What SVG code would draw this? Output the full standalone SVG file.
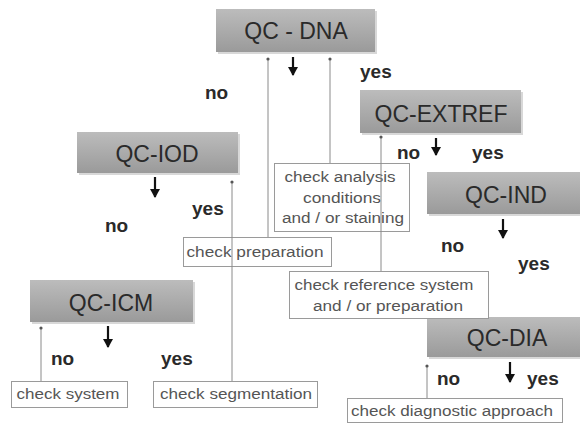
<svg xmlns="http://www.w3.org/2000/svg" width="580" height="425" viewBox="0 0 580 425">
<defs>
<linearGradient id="g" x1="0" y1="0" x2="0" y2="1">
<stop offset="0" stop-color="#bcbcbc"/>
<stop offset="1" stop-color="#9a9a9a"/>
</linearGradient>
<marker id="dot" markerWidth="4" markerHeight="4" refX="2" refY="2" markerUnits="userSpaceOnUse"><circle cx="2" cy="2" r="1.6" fill="#555"/></marker>
<marker id="ah" markerWidth="9" markerHeight="10" refX="8" refY="5" orient="auto" markerUnits="userSpaceOnUse" viewBox="0 0 9 10"><path d="M0,0 L9,5 L0,10 Z" fill="#111"/></marker>
</defs>
<style>
.box{fill:url(#g);}
.sh{fill:#d8d8d8;}
.bt{font-family:"Liberation Sans",Arial,sans-serif;font-size:23px;fill:#2a2a2a;text-anchor:middle;}
.lb{fill:#fff;stroke:#9a9a9a;stroke-width:1;}
.lt{font-family:"Liberation Sans",Arial,sans-serif;font-size:14px;fill:#555;text-anchor:middle;}
.yn{font-family:"Liberation Sans",Arial,sans-serif;font-size:19px;font-weight:bold;fill:#2a2a2a;}
.up{stroke:#8a8a8a;stroke-width:1;fill:none;marker-start:url(#dot);}
.dn{stroke:#111;stroke-width:2.2;fill:none;marker-end:url(#ah);}
</style>
<rect width="580" height="425" fill="#fff"/>

<g id="qc-dna"><rect class="sh" x="218" y="11" width="159" height="43"/><rect class="box" x="216" y="9" width="159" height="43"/><text class="bt" x="296" y="39">QC - DNA</text></g>
<g id="qc-extref"><rect class="sh" x="362" y="92" width="161" height="43"/><rect class="box" x="360" y="90" width="161" height="43"/><text class="bt" x="441" y="122">QC-EXTREF</text></g>
<g id="qc-iod"><rect class="sh" x="79" y="134" width="161" height="41"/><rect class="box" x="77" y="132" width="161" height="41"/><text class="bt" x="157" y="162">QC-IOD</text></g>
<g id="qc-ind"><rect class="sh" x="429" y="174" width="153" height="42"/><rect class="box" x="427" y="172" width="153" height="42"/><text class="bt" x="506" y="203">QC-IND</text></g>
<g id="qc-icm"><rect class="sh" x="32" y="282" width="163" height="42"/><rect class="box" x="30" y="280" width="163" height="42"/><text class="bt" x="111" y="311">QC-ICM</text></g>
<g id="qc-dia"><rect class="sh" x="429" y="319" width="153" height="40"/><rect class="box" x="427" y="317" width="153" height="40"/><text class="bt" x="507" y="346">QC-DIA</text></g>

<g id="check-analysis"><rect class="lb" x="274.5" y="163.5" width="135" height="68"/>
<text class="lt" x="340" y="182" textLength="111" lengthAdjust="spacingAndGlyphs">check analysis</text>
<text class="lt" x="342" y="203" textLength="78" lengthAdjust="spacingAndGlyphs">conditions</text>
<text class="lt" x="343" y="223" textLength="122" lengthAdjust="spacingAndGlyphs">and / or staining</text></g>
<g id="check-preparation"><rect class="lb" x="183.5" y="237.5" width="148" height="29"/>
<text class="lt" x="255" y="257" textLength="137" lengthAdjust="spacingAndGlyphs">check preparation</text></g>
<g id="check-reference"><rect class="lb" x="289.5" y="271.5" width="199" height="47"/>
<text class="lt" x="384" y="290" textLength="179" lengthAdjust="spacingAndGlyphs">check reference system</text>
<text class="lt" x="388" y="311" textLength="150" lengthAdjust="spacingAndGlyphs">and / or preparation</text></g>
<g id="check-system"><rect class="lb" x="11.5" y="381.5" width="116" height="26"/>
<text class="lt" x="68" y="399" textLength="103" lengthAdjust="spacingAndGlyphs">check system</text></g>
<g id="check-segmentation"><rect class="lb" x="153.5" y="381.5" width="164" height="26"/>
<text class="lt" x="236" y="399" textLength="152" lengthAdjust="spacingAndGlyphs">check segmentation</text></g>
<g id="check-diagnostic"><rect class="lb" x="347.5" y="398.5" width="215" height="24"/>
<text class="lt" x="452" y="416" textLength="202" lengthAdjust="spacingAndGlyphs">check diagnostic approach</text></g>

<g id="labels">
<text class="yn" x="205" y="99">no</text>
<text class="yn" x="360" y="78">yes</text>
<text class="yn" x="397" y="159">no</text>
<text class="yn" x="472" y="159">yes</text>
<text class="yn" x="192" y="215">yes</text>
<text class="yn" x="105" y="232">no</text>
<text class="yn" x="441" y="252">no</text>
<text class="yn" x="518" y="270">yes</text>
<text class="yn" x="51" y="365">no</text>
<text class="yn" x="161" y="365">yes</text>
<text class="yn" x="437" y="385">no</text>
<text class="yn" x="527" y="385">yes</text>
</g>

<g id="connectors">
<line class="up" x1="268" y1="59" x2="268" y2="237"/>
<line class="up" x1="330" y1="59" x2="330" y2="163"/>
<line class="up" x1="381" y1="137" x2="381" y2="271"/>
<line class="up" x1="232" y1="182" x2="232" y2="381"/>
<line class="up" x1="41" y1="328" x2="41" y2="381"/>
<line class="up" x1="427" y1="366" x2="427" y2="398"/>
<line class="dn" x1="293" y1="57" x2="293" y2="75"/>
<line class="dn" x1="436" y1="138" x2="436" y2="155"/>
<line class="dn" x1="155" y1="177" x2="155" y2="197"/>
<line class="dn" x1="108" y1="326" x2="108" y2="347"/>
<line class="dn" x1="503" y1="219" x2="503" y2="238"/>
<line class="dn" x1="510" y1="362" x2="510" y2="382"/>
</g>
</svg>
